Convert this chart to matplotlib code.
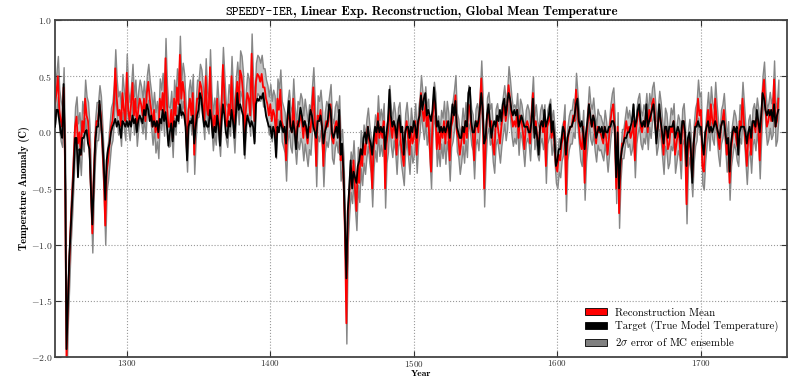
import numpy as np
import matplotlib
matplotlib.use('Agg')
import matplotlib.pyplot as plt
import matplotlib.transforms as mtransforms
from matplotlib.patches import Rectangle
from matplotlib.ticker import FuncFormatter
from matplotlib.offsetbox import TextArea, HPacker, AnchoredOffsetbox

plt.rcParams['font.family'] = 'cmr10'
plt.rcParams['mathtext.fontset'] = 'cm'
plt.rcParams['axes.formatter.use_mathtext'] = True

first_year = 1250

# ensemble mean of the reconstruction, one value per year (1250-1754)
recon_mean = [
    0.25, 0.35, 0.50, 0.20, 0.10, 0.05, 0.40, -0.30, -2.05, -1.50,
    -1.15, -0.80, -0.55, -0.25, 0.05, 0.14, -0.10, 0.00, -0.20, 0.10,
    0.00, 0.30, 0.15, 0.10, -0.10, -0.50, -0.90, -0.40, -0.05, 0.10,
    0.10, 0.25, 0.15, -0.10, -0.40, -0.83, -0.35, -0.25, -0.10, 0.05,
    0.10, 0.25, 0.57, 0.30, 0.15, 0.20, 0.05, 0.35, 0.20, 0.10,
    0.53, 0.20, 0.10, 0.25, 0.44, 0.15, 0.30, 0.05, 0.20, 0.30,
    0.25, 0.15, 0.30, 0.10, 0.35, 0.45, 0.30, 0.20, 0.05, 0.20,
    0.00, 0.10, -0.05, 0.30, 0.20, 0.35, 0.15, 0.66, 0.25, 0.05,
    0.05, 0.20, -0.05, 0.30, 0.15, 0.40, 0.25, 0.69, 0.30, 0.45,
    0.35, 0.10, -0.18, 0.20, 0.30, 0.15, 0.35, -0.20, 0.10, 0.30,
    0.30, 0.45, 0.40, 0.25, 0.10, 0.50, 0.20, 0.15, 0.58, 0.20,
    0.00, 0.15, 0.05, 0.30, 0.10, -0.05, 0.25, 0.60, 0.35, 0.10,
    0.05, 0.25, 0.15, 0.50, 0.20, 0.00, 0.30, 0.45, 0.25, 0.55,
    0.50, 0.35, -0.05, 0.20, 0.35, 0.30, 0.15, 0.70, 0.30, 0.10,
    0.45, 0.52, 0.50, 0.45, 0.52, 0.40, 0.40, 0.30, 0.25, 0.15,
    0.25, 0.10, 0.20, 0.15, -0.05, 0.30, 0.20, 0.38, 0.10, 0.05,
    0.00, -0.25, 0.10, 0.20, 0.05, 0.00, 0.30, 0.05, -0.10, 0.10,
    0.05, 0.15, 0.10, -0.05, 0.10, 0.00, -0.10, 0.05, 0.00, 0.20,
    0.40, 0.10, -0.30, 0.15, 0.10, 0.20, 0.05, -0.30, 0.00, 0.10,
    0.05, 0.15, 0.25, -0.05, -0.10, 0.05, 0.10, 0.00, 0.15, -0.25,
    -0.15, -0.40, -0.90, -1.70, -0.80, -0.55, -0.35, -0.45, -0.25, -0.50,
    -0.70, -0.30, -0.45, -0.15, -0.30, -0.10, -0.20, -0.05, 0.05, -0.10,
    -0.20, -0.50, -0.15, 0.00, -0.10, 0.17, -0.05, 0.05, -0.05, 0.10,
    -0.50, -0.10, 0.00, 0.25, 0.05, -0.05, 0.10, 0.00, -0.20, 0.05,
    0.10, -0.10, -0.20, -0.30, 0.00, 0.10, -0.05, -0.20, 0.05, -0.10,
    -0.05, 0.10, -0.20, 0.05, 0.15, 0.35, 0.20, 0.10, 0.25, 0.05,
    0.15, -0.10, -0.35, 0.10, 0.30, 0.20, -0.15, 0.00, -0.15, 0.05,
    -0.05, 0.10, -0.10, 0.10, 0.00, -0.25, 0.05, 0.10, 0.20, 0.33,
    0.00, -0.05, -0.20, -0.10, 0.05, -0.10, 0.10, -0.05, 0.25, 0.20,
    0.05, 0.00, -0.25, 0.05, 0.10, 0.00, 0.20, 0.48, 0.15, -0.50,
    -0.10, 0.15, 0.20, 0.05, 0.10, -0.10, -0.20, 0.05, 0.10, 0.00,
    -0.10, 0.05, 0.15, 0.25, 0.10, 0.20, 0.42, 0.30, 0.15, 0.05,
    0.10, 0.05, 0.20, -0.05, 0.15, 0.10, 0.00, -0.15, 0.05, 0.10,
    0.05, -0.10, 0.15, 0.35, 0.00, 0.10, -0.05, -0.10, 0.05, 0.10,
    0.00, 0.10, -0.30, 0.05, 0.10, 0.15, -0.05, 0.05, -0.10, -0.30,
    -0.35, -0.20, -0.25, -0.10, -0.05, 0.10, -0.55, -0.10, 0.00, 0.05,
    0.05, 0.15, 0.10, 0.38, 0.20, 0.05, -0.10, -0.15, 0.05, -0.45,
    -0.10, 0.05, 0.25, 0.10, 0.05, 0.15, 0.00, -0.10, 0.05, 0.00,
    0.00, -0.05, -0.10, 0.05, -0.05, -0.20, -0.05, 0.10, 0.20, 0.25,
    0.00, -0.50, 0.05, -0.72, -0.30, -0.10, -0.10, 0.00, 0.10, 0.00,
    0.05, -0.05, 0.00, 0.10, -0.25, 0.05, 0.15, 0.20, 0.05, 0.00,
    0.10, 0.05, 0.20, 0.00, 0.20, 0.10, 0.25, 0.30, 0.15, -0.05,
    0.05, 0.20, 0.10, -0.05, -0.20, 0.05, 0.00, -0.15, -0.10, 0.05,
    0.00, 0.10, -0.20, -0.10, 0.00, -0.05, -0.25, 0.05, 0.10, -0.10,
    -0.64, -0.15, -0.05, -0.20, -0.40, -0.10, 0.05, 0.10, 0.30, 0.15,
    0.20, -0.30, -0.35, -0.10, 0.05, 0.20, 0.00, 0.25, 0.10, 0.05,
    0.30, 0.10, -0.05, -0.15, 0.05, 0.10, 0.20, 0.00, -0.20, -0.05,
    -0.45, -0.15, -0.05, 0.05, 0.00, -0.10, -0.15, 0.10, 0.05, 0.30,
    0.10, -0.10, -0.30, -0.05, 0.00, -0.20, 0.05, 0.10, 0.00, 0.15,
    0.05, -0.25, 0.10, 0.35, 0.47, 0.20, 0.05, 0.10, 0.20, 0.10,
    0.15, 0.47, 0.05, 0.10, 0.30,
]

# true model temperature, same years
target = [
    0.05, 0.20, 0.20, 0.10, 0.00, -0.05, 0.43, -0.20, -1.93, -1.50,
    -1.10, -0.85, -0.60, -0.35, -0.05, -0.05, -0.40, -0.15, -0.20, -0.05,
    -0.05, 0.00, 0.02, -0.10, -0.15, -0.50, -0.82, -0.45, -0.10, 0.05,
    0.05, 0.28, 0.10, -0.05, -0.30, -0.60, -0.25, -0.15, -0.10, 0.00,
    0.05, 0.08, 0.12, 0.05, 0.10, 0.05, -0.05, 0.10, 0.08, 0.05,
    0.10, 0.05, 0.10, 0.05, 0.15, 0.08, 0.12, 0.00, 0.10, 0.15,
    0.12, 0.08, 0.20, 0.15, 0.25, 0.20, 0.10, 0.15, 0.05, 0.10,
    0.05, 0.10, 0.00, 0.12, 0.08, 0.20, 0.10, 0.18, 0.05, -0.12,
    0.00, 0.08, -0.08, 0.10, 0.05, 0.15, 0.10, 0.25, 0.15, 0.18,
    0.15, 0.05, -0.25, 0.05, 0.10, 0.08, 0.15, -0.10, 0.05, 0.15,
    0.20, 0.35, 0.30, 0.15, 0.05, 0.10, 0.05, 0.05, 0.20, 0.10,
    -0.05, 0.05, 0.00, 0.15, 0.05, -0.12, 0.10, 0.25, 0.15, 0.00,
    -0.05, 0.10, 0.05, 0.20, 0.10, -0.05, 0.15, 0.35, 0.20, 0.25,
    0.20, 0.15, -0.20, 0.05, 0.15, 0.10, 0.05, 0.10, 0.05, -0.10,
    0.25, 0.30, 0.28, 0.32, 0.30, 0.35, 0.25, 0.15, 0.10, 0.05,
    0.05, -0.05, 0.05, 0.00, -0.22, 0.05, 0.00, 0.10, 0.05, 0.00,
    0.05, -0.10, 0.15, 0.28, 0.05, 0.00, 0.10, 0.00, -0.15, 0.05,
    0.10, 0.22, 0.15, 0.05, 0.10, 0.05, -0.05, 0.10, 0.20, 0.15,
    0.05, 0.00, -0.05, 0.10, 0.10, 0.15, 0.05, -0.10, 0.00, 0.05,
    0.10, 0.25, 0.20, 0.00, -0.05, 0.00, 0.05, -0.05, 0.20, -0.20,
    -0.10, -0.35, -0.80, -1.30, -0.70, -0.50, -0.25, -0.50, -0.35, -0.40,
    -0.45, -0.30, -0.25, -0.15, -0.20, -0.05, 0.00, -0.10, 0.05, -0.05,
    -0.10, -0.20, -0.05, 0.05, 0.00, 0.10, 0.00, 0.05, 0.00, 0.05,
    -0.15, 0.00, 0.10, 0.38, 0.15, 0.05, 0.10, 0.05, -0.05, 0.10,
    0.15, 0.00, 0.05, -0.20, 0.00, 0.05, 0.05, -0.05, 0.05, 0.00,
    0.10, 0.05, -0.05, 0.10, 0.15, 0.33, 0.20, 0.30, 0.35, 0.15,
    0.20, 0.15, 0.10, 0.20, 0.40, 0.25, 0.05, 0.10, 0.00, 0.05,
    0.00, 0.05, 0.00, 0.05, 0.10, -0.05, 0.10, 0.25, 0.15, 0.28,
    0.05, 0.00, -0.05, -0.05, 0.05, 0.00, 0.10, 0.05, 0.35, 0.40,
    0.10, 0.00, 0.00, 0.10, 0.05, 0.10, 0.20, 0.35, 0.20, -0.10,
    -0.05, 0.15, 0.25, 0.10, -0.05, 0.05, 0.10, 0.05, 0.15, 0.10,
    0.20, 0.10, 0.25, 0.30, 0.15, 0.25, 0.35, 0.30, 0.20, 0.15,
    0.20, 0.15, 0.20, 0.05, 0.10, 0.15, 0.10, 0.05, 0.05, 0.05,
    0.00, 0.00, 0.10, 0.30, -0.05, 0.05, -0.05, -0.20, 0.05, 0.10,
    0.05, 0.20, 0.05, 0.10, 0.15, 0.25, 0.00, 0.10, -0.05, -0.30,
    -0.25, -0.15, -0.15, -0.05, 0.05, 0.00, -0.20, -0.05, 0.00, 0.05,
    0.05, 0.10, 0.15, 0.25, 0.30, 0.10, 0.05, 0.10, 0.00, -0.15,
    0.00, 0.10, 0.25, 0.15, 0.05, 0.15, 0.10, -0.05, 0.00, 0.05,
    0.00, 0.05, -0.05, 0.05, 0.00, 0.00, 0.05, 0.05, 0.10, 0.10,
    0.05, -0.40, 0.00, -0.50, -0.25, -0.15, -0.10, -0.05, -0.05, 0.00,
    0.00, 0.05, 0.10, 0.25, 0.05, 0.10, 0.20, 0.25, 0.10, 0.05,
    0.10, 0.05, 0.25, 0.05, 0.10, 0.15, 0.20, 0.25, 0.10, -0.10,
    0.05, 0.25, 0.10, 0.00, -0.10, 0.05, 0.05, -0.05, 0.05, 0.05,
    0.05, 0.10, -0.05, 0.00, 0.05, 0.00, -0.10, 0.10, 0.10, 0.00,
    -0.30, -0.05, 0.00, -0.15, -0.45, -0.10, 0.05, 0.05, 0.10, 0.05,
    0.05, -0.10, -0.20, 0.00, 0.05, 0.10, 0.00, 0.05, 0.00, 0.05,
    0.10, 0.05, 0.00, -0.05, 0.05, 0.10, 0.10, 0.00, -0.10, -0.05,
    -0.35, -0.10, 0.00, 0.05, 0.00, 0.05, -0.20, 0.00, 0.05, 0.05,
    0.05, 0.00, -0.10, 0.00, 0.05, -0.05, 0.10, 0.10, 0.05, 0.20,
    0.10, 0.00, 0.15, 0.35, 0.30, 0.20, 0.15, 0.20, 0.15, 0.20,
    0.10, 0.25, 0.05, 0.15, 0.20,
]

# 2-sigma spread of the MC ensemble, one value per decade
two_sigma = [
    0.18, 0.18, 0.17, 0.17, 0.17, 0.17, 0.16, 0.18, 0.17, 0.17,
    0.16, 0.16, 0.18, 0.18, 0.17, 0.18, 0.18, 0.20, 0.18, 0.18,
    0.18, 0.17, 0.16, 0.17, 0.17, 0.16, 0.15, 0.18, 0.17, 0.16,
    0.16, 0.17, 0.15, 0.15, 0.15, 0.15, 0.15, 0.16, 0.15, 0.13,
    0.15, 0.15, 0.17, 0.16, 0.17, 0.16, 0.15, 0.15, 0.16, 0.16,
    0.17,
]

legend_labels = ['Reconstruction Mean',
                 'Target (True Model Temperature)',
                 r'$2\sigma$ error of MC ensemble']

recon = np.array(recon_mean)
truth = np.array(target)
years = np.arange(first_year, first_year + len(recon))
spread = np.repeat(two_sigma, 10)[:len(years)]

fig = plt.figure(figsize=(7.89, 3.78), dpi=100)
ax = fig.add_axes([55 / 789, 21 / 378, 732 / 789, 337 / 378])

ax.fill_between(years, recon - spread, recon + spread, facecolor='#c4c4c4',
                edgecolor='#868686', linewidth=1.0, zorder=1)
ax.plot(years, recon, color='red', lw=1.3, zorder=2)
ax.plot(years, truth, color='black', lw=1.3, zorder=3)

ax.set_xlim(1250, 1760)
ax.set_ylim(-2.0, 1.0)
ax.set_xticks([1300, 1400, 1500, 1600, 1700])
ax.set_yticks(np.arange(-2.0, 1.01, 0.5))
ax.yaxis.set_major_formatter(FuncFormatter(lambda v, p: f'${v:.1f}$'))
ax.xaxis.set_major_formatter(FuncFormatter(lambda v, p: f'${v:.0f}$'))
ax.tick_params(direction='in', top=True, right=True, length=4, pad=2,
               labelsize=7, labelcolor='#333333', color='#333333')
ax.tick_params(axis='x', pad=1, labelsize=6.5)
ax.grid(True, ls=':', color='#999999', lw=0.8)
for s in ax.spines.values():
    s.set_color('#444444')
    s.set_linewidth(1.3)

ax.set_ylabel('Temperature Anomaly (C)', family='cmb10', fontsize=7.5,
              va='center')
ax.yaxis.set_label_coords(-0.041, 0.5)

# title: model name in typewriter, rest in bold
parts = HPacker(children=[
    TextArea('SPEEDY-IER', textprops=dict(family='cmtt10', fontsize=9.3)),
    TextArea(', Linear Exp. Reconstruction, Global Mean Temperature',
             textprops=dict(family='cmb10', fontsize=9.3)),
], sep=0, pad=0, align='baseline')
title_box = AnchoredOffsetbox(loc='lower center', child=parts, pad=0,
                              borderpad=0, frameon=False,
                              bbox_to_anchor=(0.5, 1.006),
                              bbox_transform=ax.transAxes)
ax.add_artist(title_box)

handles = [Rectangle((0, 0), 1, 1, facecolor='red', edgecolor='black', lw=0.6),
           Rectangle((0, 0), 1, 1, facecolor='black', edgecolor='black', lw=0.6),
           Rectangle((0, 0), 1, 1, facecolor='#808080', edgecolor='black', lw=0.6)]
ax.legend(handles, legend_labels, loc='lower right', frameon=False,
          fontsize=7.8, handlelength=2.0, handleheight=0.65, labelspacing=0.3,
          handletextpad=0.75, borderaxespad=0.4)

# put "Year" right under the lowest tick label
fig.canvas.draw()
renderer = fig.canvas.get_renderer()
tick_bottom = min(t.get_window_extent(renderer).y0
                  for t in ax.get_xticklabels() if t.get_text())
ax.set_xlabel('Year', family='cmb10', fontsize=6.9, va='top')
ax.xaxis.set_label_coords(
    0.5, tick_bottom - 0.6,
    transform=mtransforms.blended_transform_factory(
        ax.transAxes, mtransforms.IdentityTransform()))

fig.savefig('out.png', dpi=100)
